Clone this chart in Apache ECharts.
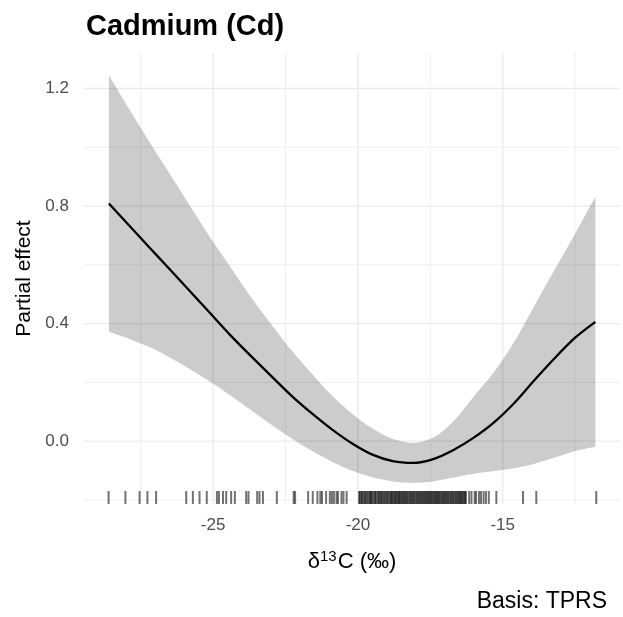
<!DOCTYPE html>
<html>
<head>
<meta charset="utf-8">
<script src="https://cdn.jsdelivr.net/npm/echarts@6/dist/echarts.min.js"></script>
<style>
  html, body { margin: 0; padding: 0; background: #fff; }
  #chart { width: 623px; height: 617px; }
</style>
</head>
<body>
<div id="chart"></div>
<script>
// smooth term
const xGrid = [-28.6, -27.9, -27.2, -26.5, -25.8, -25.1, -24.4, -23.7, -23.0, -22.3, -21.6, -20.9, -20.2, -19.5, -18.8, -18.1, -17.4, -16.7, -16.0, -15.3, -14.6, -13.9, -13.2, -12.5, -11.8];
const fitValues = [0.809, 0.734, 0.659, 0.585, 0.51, 0.435, 0.36, 0.29, 0.222, 0.155, 0.095, 0.04, -0.008, -0.046, -0.068, -0.074, -0.061, -0.03, 0.012, 0.064, 0.13, 0.208, 0.283, 0.352, 0.406];
const upperValues = [1.245, 1.13, 1.018, 0.91, 0.801, 0.693, 0.592, 0.491, 0.398, 0.31, 0.23, 0.155, 0.093, 0.043, 0.008, -0.006, 0.012, 0.068, 0.152, 0.235, 0.338, 0.462, 0.585, 0.706, 0.832];
const lowerValues = [0.372, 0.348, 0.32, 0.285, 0.245, 0.202, 0.155, 0.106, 0.057, 0.01, -0.033, -0.07, -0.101, -0.123, -0.137, -0.142, -0.137, -0.124, -0.111, -0.102, -0.092, -0.077, -0.056, -0.034, -0.019];

// observed d13C values (rug)
const rugValues = [
  -28.61, -28.03, -27.54, -27.27, -26.97, -25.93, -25.70, -25.47, -25.22, -24.87, -24.80, -24.66, -24.55, -24.38, -24.25,
  -23.86, -23.78, -23.48, -23.40, -23.28, -22.80, -22.22, -22.17, -21.72, -21.56, -21.40, -21.30, -21.24, -21.10, -20.97,
  -20.90, -20.83, -20.74, -20.69, -20.57, -20.50, -20.39,
  -19.96, -19.93, -19.88, -19.86, -19.81, -19.77, -19.74, -19.70, -19.66, -19.61, -19.58, -19.55, -19.51, -19.47, -19.42,
  -19.40, -19.36, -19.31, -19.28, -19.24, -19.20, -19.17, -19.12, -19.09, -19.05, -19.01, -18.98, -18.94, -18.90, -18.86,
  -18.83, -18.80, -18.76, -18.72, -18.69, -18.65, -18.61, -18.58, -18.55, -18.51, -18.47, -18.44, -18.40, -18.37, -18.33,
  -18.30, -18.26, -18.22, -18.19, -18.15, -18.12, -18.08, -18.05, -18.01, -17.97, -17.94, -17.90, -17.87, -17.83, -17.80,
  -17.76, -17.73, -17.69, -17.66, -17.62, -17.59, -17.55, -17.52, -17.48, -17.45, -17.41, -17.37, -17.34, -17.30, -17.27,
  -17.23, -17.20, -17.16, -17.12, -17.09, -17.05, -17.02, -16.98, -16.95, -16.91, -16.88, -16.84, -16.80, -16.77, -16.73,
  -16.70, -16.66, -16.62, -16.59, -16.55, -16.51, -16.48, -16.44, -16.41, -16.37, -16.33, -16.30, -16.27,
  -16.16, -16.08, -15.97, -15.92, -15.82, -15.75, -15.66, -15.58, -15.48, -15.22, -14.30, -13.84, -11.77
];

const xTicks = [-25, -20, -15];
const xMinor = [-27.5, -22.5, -17.5, -12.5];
const yTicks = [0, 0.4, 0.8, 1.2];
const yMinor = [-0.2, 0.2, 0.6, 1.0];

const xMin = -29.46, xMax = -10.95;
const yMin = -0.214, yMax = 1.321;

const chart = echarts.init(document.getElementById("chart"));
const font = "Liberation Sans, Arial, sans-serif";

let option = {
  animation: false,
  backgroundColor: "#fff",
  title: [
    {
      text: "Cadmium (Cd)",
      left: 86,
      top: 12,
      padding: 0,
      textStyle: { fontSize: 29, fontWeight: "bold", color: "#000", fontFamily: font }
    },
    {
      text: "Basis: TPRS",
      right: 16,
      bottom: 4,
      padding: 0,
      textStyle: { fontSize: 23, fontWeight: "normal", color: "#000", fontFamily: font }
    }
  ],
  grid: { left: 84, right: 3, top: 53, bottom: 113, outerBoundsMode: "none" },
  xAxis: {
    type: "value",
    min: xMin,
    max: xMax,
    axisLine: { show: false },
    axisTick: { show: false },
    splitLine: { show: false },
    axisLabel: {
      customValues: xTicks,
      margin: 13,
      fontSize: 17,
      color: "#4d4d4d",
      fontFamily: font
    },
    name: "{t|δ}{s|13}{t|C (‰)}",
    nameLocation: "middle",
    nameGap: 45,
    nameTextStyle: {
      rich: {
        t: { fontSize: 22, color: "#000", fontFamily: font },
        s: { fontSize: 15, color: "#000", fontFamily: font, verticalAlign: "bottom", padding: [0, 1, 10, 0] }
      }
    }
  },
  yAxis: {
    type: "value",
    min: yMin,
    max: yMax,
    axisLine: { show: false },
    axisTick: { show: false },
    splitLine: { show: false },
    axisLabel: {
      customValues: yTicks,
      formatter: (v) => v.toFixed(1),
      margin: 15,
      fontSize: 17,
      color: "#4d4d4d",
      fontFamily: font
    },
    name: "Partial effect",
    nameLocation: "middle",
    nameGap: 46,
    nameTextStyle: { fontSize: 21, color: "#000", fontFamily: font }
  },
  series: [
    {
      // panel grid lines
      type: "custom",
      silent: true,
      z: 1,
      data: [[xTicks[0], yTicks[0]]],
      renderItem: (params, api) => {
        const cs = params.coordSys;
        const lines = [];
        const add = (p1, p2, major) => lines.push({
          type: "line",
          shape: { x1: p1[0], y1: p1[1], x2: p2[0], y2: p2[1] },
          style: { stroke: "#ebebeb", lineWidth: major ? 1.4 : 0.8 }
        });
        yMinor.forEach(v => add([cs.x, api.coord([xMin, v])[1]], [cs.x + cs.width, api.coord([xMin, v])[1]], false));
        xMinor.forEach(v => add([api.coord([v, yMin])[0], cs.y], [api.coord([v, yMin])[0], cs.y + cs.height], false));
        yTicks.forEach(v => add([cs.x, api.coord([xMin, v])[1]], [cs.x + cs.width, api.coord([xMin, v])[1]], true));
        xTicks.forEach(v => add([api.coord([v, yMin])[0], cs.y], [api.coord([v, yMin])[0], cs.y + cs.height], true));
        return { type: "group", children: lines };
      }
    },
    {
      // lower limit of band (invisible base of the stack); y first so it is the stacked dimension
      type: "line",
      z: 2,
      stack: "ci",
      stackStrategy: "all",
      silent: true,
      encode: { x: 1, y: 0 },
      data: xGrid.map((x, i) => [lowerValues[i], x]),
      smooth: 0.3,
      showSymbol: false,
      lineStyle: { opacity: 0 }
    },
    {
      // band width stacked on lower limit
      type: "line",
      z: 2,
      stack: "ci",
      stackStrategy: "all",
      silent: true,
      encode: { x: 1, y: 0 },
      data: xGrid.map((x, i) => [upperValues[i] - lowerValues[i], x]),
      smooth: 0.3,
      showSymbol: false,
      lineStyle: { opacity: 0 },
      areaStyle: { color: "rgba(0,0,0,0.2)", opacity: 1 }
    },
    {
      type: "line",
      z: 3,
      data: xGrid.map((x, i) => [x, fitValues[i]]),
      smooth: 0.3,
      showSymbol: false,
      lineStyle: { color: "#000", width: 2.3 }
    },
    {
      // rug
      type: "custom",
      silent: true,
      z: 4,
      encode: { x: 0, y: 1 },
      data: rugValues.map(v => [v, yMin]),
      renderItem: (params, api) => {
        const p = api.coord([api.value(0), yMin]);
        return {
          type: "line",
          shape: { x1: p[0], y1: p[1] - 13, x2: p[0], y2: p[1] },
          style: { stroke: "rgba(0,0,0,0.55)", lineWidth: 2 }
        };
      }
    }
  ]
};

chart.setOption(option);
</script>
</body>
</html>
